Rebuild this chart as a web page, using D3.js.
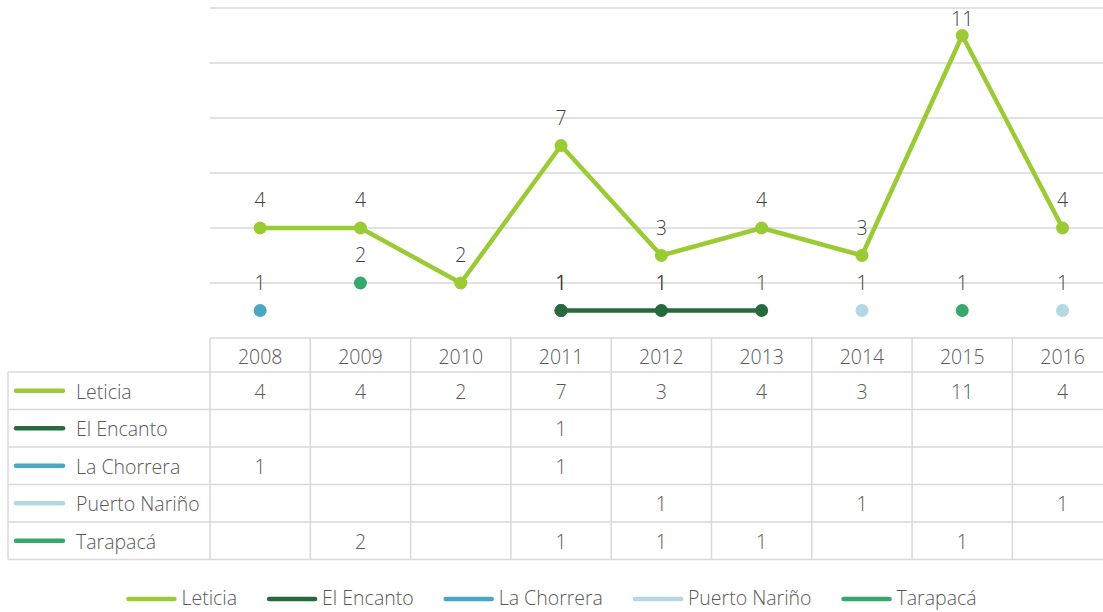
<!DOCTYPE html>
<html>
<head>
<meta charset="utf-8">
<script src="https://cdn.jsdelivr.net/npm/d3@7"></script>
<style>
  body { margin: 0; background: #fff; }
  svg text { font-family: "Open Sans", "Liberation Sans", sans-serif; font-weight: 300; }
</style>
</head>
<body>
<div id="chart"></div>
<script>
// data
var years = ["2008", "2009", "2010", "2011", "2012", "2013", "2014", "2015", "2016"];
var seriesNames = ["Leticia", "El Encanto", "La Chorrera", "Puerto Nariño", "Tarapacá"];
var leticia = [4, 4, 2, 7, 3, 4, 3, 11, 4];
var elEncanto = [null, null, null, 1, null, null, null, null, null];
var laChorrera = [1, null, null, 1, null, null, null, null, null];
var puertoNarino = [null, null, null, null, 1, null, 1, null, 1];
var tarapaca = [null, 2, null, 1, 1, 1, null, 1, null];
var yTicks = [0, 2, 4, 6, 8, 10, 12];

var colors = ["#9acb34", "#276a3d", "#47a7c4", "#b3d7e5", "#35a86c"];
// in the reference the Tarapacá points for 2011-2013 are drawn in the dark green
var pointColor = { "Tarapacá": { "2011": "#276a3d", "2012": "#276a3d", "2013": "#276a3d" } };

var seriesValues = [leticia, elEncanto, laChorrera, puertoNarino, tarapaca];

var w = 1103, h = 612;
var left = 210, colW = 100.3;
var tableTop = 338, headH = 34, rowH = 37.5;
var fs = 19.5;
var dy = 3; // Open Sans sits a bit high with a middle baseline

var svg = d3.select("#chart").append("svg")
    .attr("width", w)
    .attr("height", h);

var x = d3.scaleBand()
    .domain(years)
    .range([left, left + colW * years.length]);

var y = d3.scaleLinear()
    .domain([0, 12])
    .range([tableTop, 8]);

// gridlines
svg.append("g").selectAll("line")
    .data(yTicks.filter(d => d > 0))
    .join("line")
    .attr("x1", left).attr("x2", w)
    .attr("y1", d => y(d)).attr("y2", d => y(d))
    .attr("stroke", "#d9d9d9")
    .attr("stroke-width", 1.5);

// series
var plot = svg.append("g");
seriesNames.forEach(function (name, si) {
    var vals = seriesValues[si];
    var pts = years.map(function (yr, i) { return { year: yr, v: vals[i] }; });
    var colorOf = function (p) {
        return (pointColor[name] && pointColor[name][p.year]) || colors[si];
    };
    var g = plot.append("g");
    // line segments between consecutive points
    for (var i = 1; i < pts.length; i++) {
        if (pts[i - 1].v == null || pts[i].v == null) continue;
        g.append("line")
            .attr("x1", x(pts[i - 1].year) + x.bandwidth() / 2)
            .attr("y1", y(pts[i - 1].v))
            .attr("x2", x(pts[i].year) + x.bandwidth() / 2)
            .attr("y2", y(pts[i].v))
            .attr("stroke", colorOf(pts[i]))
            .attr("stroke-width", 4.5)
            .attr("stroke-linecap", "round");
    }
    var valid = pts.filter(p => p.v != null);
    g.selectAll("circle")
        .data(valid)
        .join("circle")
        .attr("cx", d => x(d.year) + x.bandwidth() / 2)
        .attr("cy", d => y(d.v))
        .attr("r", 6.5)
        .attr("fill", colorOf);
    g.selectAll("text")
        .data(valid)
        .join("text")
        .attr("x", d => x(d.year) + x.bandwidth() / 2)
        .attr("y", d => Math.max(y(d.v) - 29, 18) + dy)
        .attr("text-anchor", "middle")
        .attr("dominant-baseline", "middle")
        .attr("font-size", fs)
        .attr("fill", "#404040")
        .text(d => d.v);
});

// data table
var table = svg.append("g");
var tableRight = left + colW * years.length;
var tableBottom = tableTop + headH + rowH * seriesNames.length;
var lineColor = "#d9d9d9";

// horizontal lines
table.append("line")
    .attr("x1", left).attr("x2", tableRight)
    .attr("y1", tableTop).attr("y2", tableTop)
    .attr("stroke", lineColor).attr("stroke-width", 1.5);
d3.range(seriesNames.length + 1).forEach(function (r) {
    var yy = tableTop + headH + r * rowH;
    table.append("line")
        .attr("x1", 8).attr("x2", tableRight)
        .attr("y1", yy).attr("y2", yy)
        .attr("stroke", lineColor).attr("stroke-width", 1.5);
});
// vertical lines
table.append("line")
    .attr("x1", 8).attr("x2", 8)
    .attr("y1", tableTop + headH).attr("y2", tableBottom)
    .attr("stroke", lineColor).attr("stroke-width", 1.5);
years.concat(["end"]).forEach(function (yr, i) {
    var xx = left + i * colW;
    table.append("line")
        .attr("x1", xx).attr("x2", xx)
        .attr("y1", tableTop).attr("y2", tableBottom)
        .attr("stroke", lineColor).attr("stroke-width", 1.5);
});

// header years
table.selectAll(".yr")
    .data(years)
    .join("text")
    .attr("class", "yr")
    .attr("x", d => x(d) + x.bandwidth() / 2)
    .attr("y", tableTop + headH / 2 + 1 + dy)
    .attr("text-anchor", "middle")
    .attr("dominant-baseline", "middle")
    .attr("font-size", fs)
    .attr("fill", "#595959")
    .text(d => d);

// rows
seriesNames.forEach(function (name, si) {
    var cy = tableTop + headH + si * rowH + rowH / 2;
    table.append("line")
        .attr("x1", 16).attr("x2", 63)
        .attr("y1", cy).attr("y2", cy)
        .attr("stroke", colors[si])
        .attr("stroke-width", 4.5)
        .attr("stroke-linecap", "round");
    table.append("text")
        .attr("x", 76).attr("y", cy + dy)
        .attr("dominant-baseline", "middle")
        .attr("font-size", fs)
        .attr("fill", "#595959")
        .text(name);
    seriesValues[si].forEach(function (v, i) {
        if (v == null) return;
        table.append("text")
            .attr("x", x(years[i]) + x.bandwidth() / 2)
            .attr("y", cy + dy)
            .attr("text-anchor", "middle")
            .attr("dominant-baseline", "middle")
            .attr("font-size", fs)
            .attr("fill", "#595959")
            .text(v);
    });
});

// legend at the bottom
var legend = svg.append("g");
var lx = 0, gap = 30;
seriesNames.forEach(function (name, si) {
    var item = legend.append("g").attr("transform", "translate(" + lx + ",0)");
    item.append("line")
        .attr("x1", 2).attr("x2", 48)
        .attr("y1", 0).attr("y2", 0)
        .attr("stroke", colors[si])
        .attr("stroke-width", 4.5)
        .attr("stroke-linecap", "round");
    var t = item.append("text")
        .attr("x", 55).attr("y", 1)
        .attr("dominant-baseline", "middle")
        .attr("font-size", fs)
        .attr("fill", "#595959")
        .text(name);
    lx += 55 + t.node().getComputedTextLength() + gap;
});
lx -= gap;
legend.attr("transform", "translate(" + ((w - lx) / 2) + ",599)");
</script>
</body>
</html>
